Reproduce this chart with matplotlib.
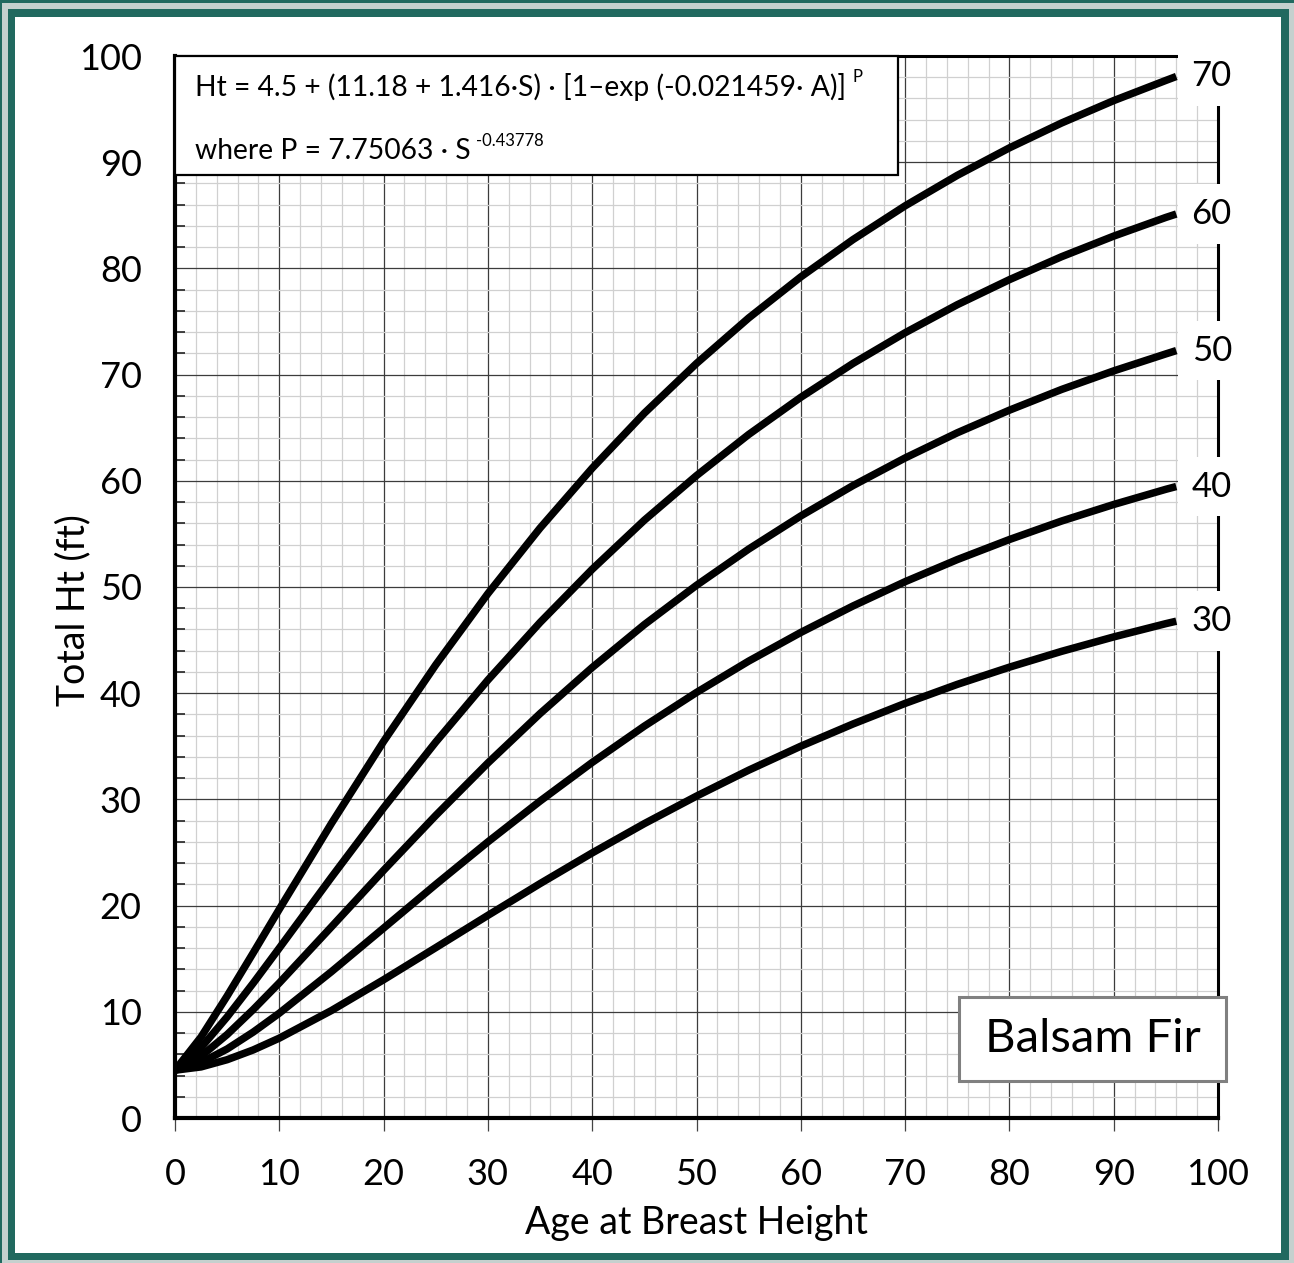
import matplotlib
matplotlib.use("Agg")
import matplotlib.pyplot as plt
from matplotlib.patches import Rectangle
from matplotlib.ticker import MultipleLocator

plt.rcParams['font.family'] = ['Lato', 'DejaVu Sans']

# age at breast height (years) and total height (ft)
ages = [0, 2.5, 5, 7.5, 10, 15, 20, 25, 30, 35, 40, 45, 50, 55, 60, 65, 70, 75, 80, 85, 90, 95, 96]
si30 = [4.5, 4.81, 5.49, 6.41, 7.52, 10.12, 13.02, 16.04, 19.08, 22.07, 24.96, 27.72, 30.31, 32.75,
        35.01, 37.10, 39.04, 40.83, 42.45, 43.94, 45.30, 46.55, 46.78]
si40 = [4.5, 5.22, 6.50, 8.09, 9.87, 13.78, 17.88, 21.99, 26.00, 29.84, 33.48, 36.90, 40.07, 43.02,
        45.72, 48.21, 50.50, 52.58, 54.47, 56.21, 57.77, 59.20, 59.46]
si50 = [4.5, 5.82, 7.86, 10.21, 12.72, 18.00, 23.32, 28.49, 33.43, 38.08, 42.42, 46.46, 50.16, 53.57,
        56.69, 59.55, 62.15, 64.52, 66.65, 68.60, 70.35, 71.95, 72.26]
si60 = [4.5, 6.63, 9.52, 12.70, 16.00, 22.67, 29.20, 35.40, 41.24, 46.66, 51.67, 56.29, 60.49, 64.36,
        67.86, 71.05, 73.94, 76.58, 78.94, 81.10, 83.04, 84.80, 85.12]
si70 = [4.5, 7.63, 11.49, 15.55, 19.66, 27.74, 35.46, 42.67, 49.38, 55.55, 61.19, 66.37, 71.05, 75.33,
        79.20, 82.71, 85.89, 88.76, 91.35, 93.69, 95.80, 97.70, 98.07]
site_labels = ['30', '40', '50', '60', '70']
curves = [si30, si40, si50, si60, si70]

TEAL = '#21695f'

fig = plt.figure(figsize=(12.94, 12.63), dpi=100)
fig.patch.set_facecolor(TEAL)
# frame: light strip, teal band, white page
fig.add_artist(Rectangle((2 / 1294, 0), 1292 / 1294, 1260 / 1263, transform=fig.transFigure,
                         facecolor='#c5d0ce', edgecolor='none', zorder=-3))
fig.add_artist(Rectangle((8 / 1294, 3 / 1263), 1281 / 1294, 1251 / 1263, transform=fig.transFigure,
                         facecolor=TEAL, edgecolor='none', zorder=-2))
fig.add_artist(Rectangle((15 / 1294, 10 / 1263), 1266 / 1294, 1236 / 1263, transform=fig.transFigure,
                         facecolor='white', edgecolor='none', zorder=-1))

ax = fig.add_axes([175 / 1294, 1 - 1118 / 1263, 1043 / 1294, 1062 / 1263])
ax.set_facecolor('white')

for vals in curves:
    ax.plot(ages, vals, color='black', lw=5.4, solid_capstyle='butt', solid_joinstyle='round', zorder=4)

for lab, vals in zip(site_labels, curves):
    ax.text(99.4, vals[-1], lab, fontsize=25, ha='center', va='center', zorder=6, clip_on=False,
            bbox=dict(boxstyle='square,pad=0.4', facecolor='white', edgecolor='none'))

ax.set_xlim(0, 100)
ax.set_ylim(0, 100)
ax.xaxis.set_major_locator(MultipleLocator(10))
ax.yaxis.set_major_locator(MultipleLocator(10))
ax.xaxis.set_minor_locator(MultipleLocator(2))
ax.yaxis.set_minor_locator(MultipleLocator(2))
ax.grid(which='major', color='#3c3c3c', lw=0.9)
ax.grid(which='minor', color='#d0d0d0', lw=0.9)
ax.set_axisbelow(True)

ax.tick_params(axis='x', which='major', direction='out', length=9, width=0.9, color='#444444',
               labelsize=26, pad=20)
ax.tick_params(axis='x', which='minor', length=0)
ax.tick_params(axis='y', which='major', length=0, labelsize=26, pad=24)
ax.tick_params(axis='y', which='minor', direction='in', length=7, width=1.2, color='#222222')

for side in ['left', 'bottom']:
    ax.spines[side].set_linewidth(3)
for side in ['right', 'top']:
    ax.spines[side].set_linewidth(2.2)

ax.set_xlabel('Age at Breast Height', fontsize=27, labelpad=10)
ax.set_ylabel('Total Ht (ft)', fontsize=27)
ax.yaxis.set_label_coords(-0.08, 0.478)

# equation box
ax.add_patch(Rectangle((0, 0.888), 0.693, 0.112, transform=ax.transAxes, facecolor='white',
                       edgecolor='black', lw=1.6, zorder=5, clip_on=False))
t1 = ax.text(0.019, 0.971, 'Ht = 4.5 + (11.18 + 1.416·S) · [1–exp (-0.021459· A)]',
             transform=ax.transAxes, fontsize=20.3, ha='left', va='center', zorder=6)
ax.annotate('P', xy=(1, 0.85), xycoords=t1, xytext=(5, 0), textcoords='offset points',
            fontsize=12, ha='left', va='center', zorder=6)
t2 = ax.text(0.019, 0.911, 'where P = 7.75063 · S', transform=ax.transAxes, fontsize=20.3,
             ha='left', va='center', zorder=6)
ax.annotate('-0.43778', xy=(1, 0.85), xycoords=t2, xytext=(4, 0), textcoords='offset points',
            fontsize=12, ha='left', va='center', zorder=6)

# species box
ax.add_patch(Rectangle((0.752, 0.035), 0.256, 0.079, transform=ax.transAxes, facecolor='white',
                       edgecolor='#808080', lw=2.2, zorder=5, clip_on=False))
ax.text(0.88, 0.0745, 'Balsam Fir', transform=ax.transAxes, fontsize=34, ha='center',
        va='center', zorder=6)

fig.savefig('out.png', dpi=100, facecolor=fig.get_facecolor())
